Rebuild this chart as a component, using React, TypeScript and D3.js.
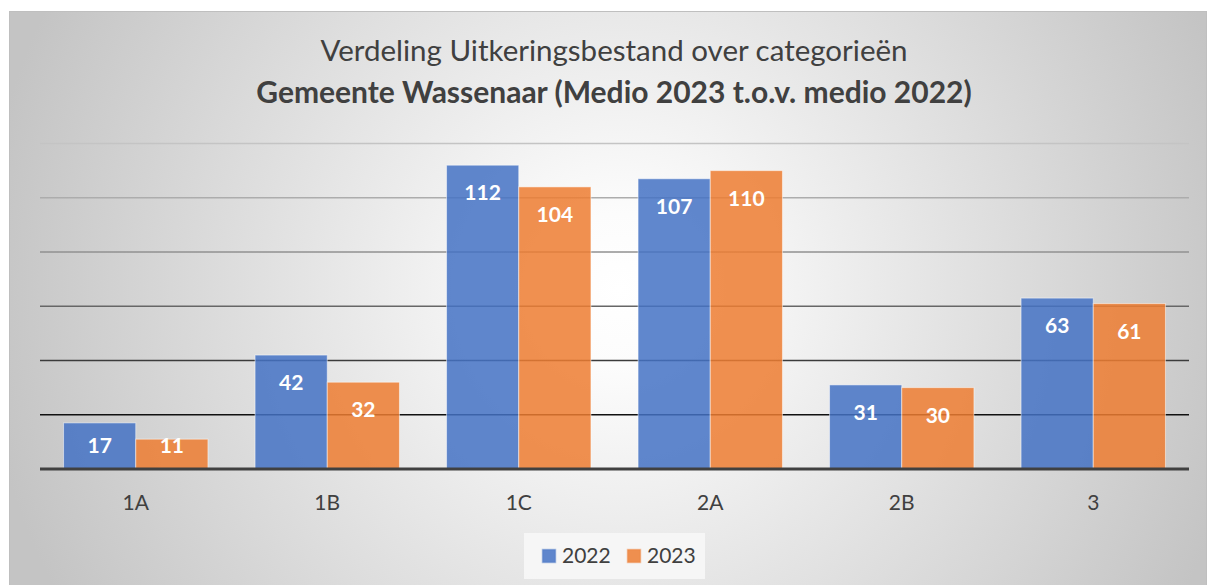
import React from 'react'
import * as d3 from 'd3'

const categories = ['1A', '1B', '1C', '2A', '2B', '3']
const seriesNames = ['2022', '2023']
const values2022 = [17, 42, 112, 107, 31, 63]
const values2023 = [11, 32, 104, 110, 30, 61]
const yTicks = [0, 20, 40, 60, 80, 100, 120]
const colors = ['#4472C4', '#ED7D31']
const titleLine1 = 'Verdeling Uitkeringsbestand over categorieën'
const titleLine2 = 'Gemeente Wassenaar (Medio 2023 t.o.v. medio 2022)'

const W = 1215
const H = 585
const font = 'Lato, "Open Sans", sans-serif'

export default function App() {
  const left = 40
  const right = 1189
  const top = 143.5
  const bottom = 469

  const x = d3.scaleBand().domain(categories).range([left, right]).paddingInner(0.246).paddingOuter(0.123)
  const x1 = d3.scaleBand().domain(seriesNames).range([0, x.bandwidth()])
  const y = d3.scaleLinear().domain([0, 120]).range([bottom, top])

  const series = [values2022, values2023]

  return (
    <svg width={W} height={H} style={{ position: 'absolute', left: 0, top: 0 }}>
      <defs>
        <radialGradient id="bg" gradientUnits="userSpaceOnUse" cx={620} cy={290} r={640}>
          <stop offset="0" stopColor="#ffffff" />
          <stop offset="0.12" stopColor="#fcfcfc" />
          <stop offset="1" stopColor="#c4c4c4" />
        </radialGradient>
        <linearGradient id="grid" gradientUnits="userSpaceOnUse" x1={0} y1={top} x2={0} y2={bottom - 50}>
          <stop offset="0" stopColor="#c4c4c4" />
          <stop offset="0.35" stopColor="#9a9a9a" />
          <stop offset="0.65" stopColor="#5a5a5a" />
          <stop offset="1" stopColor="#0d0d0d" />
        </linearGradient>
      </defs>
      <rect x={0} y={0} width={W} height={H} fill="#ffffff" />
      <rect x={9.5} y={11.5} width={1197} height={H} fill="url(#bg)" stroke="#bfbfbf" strokeWidth={1} />

      <text x={614} y={61} textAnchor="middle" fontFamily={font} fontSize={29.5} fill="#404040">
        {titleLine1}
      </text>
      <text x={614} y={103} textAnchor="middle" fontFamily={font} fontSize={30} fontWeight="bold" fill="#404040">
        {titleLine2}
      </text>

      {yTicks.filter(t => t > 0).map(t => (
        <line key={t} x1={left} x2={right} y1={y(t)} y2={y(t)} stroke="url(#grid)" strokeWidth={1.5} />
      ))}

      {categories.map((c, i) => (
        <g key={c} transform={`translate(${x(c)},0)`}>
          {series.map((vals, s) => {
            const bx = x1(seriesNames[s]) as number
            const by = y(vals[i])
            const labelY = Math.min(by + 35, bottom - 16)
            return (
              <g key={s}>
                <rect
                  x={bx}
                  y={by}
                  width={x1.bandwidth()}
                  height={bottom - by}
                  fill={colors[s]}
                  fillOpacity={0.85}
                  stroke="#ffffff"
                  strokeOpacity={0.5}
                  strokeWidth={1}
                />
                <text
                  x={bx + x1.bandwidth() / 2}
                  y={labelY}
                  textAnchor="middle"
                  fontFamily={font}
                  fontSize={21}
                  fontWeight="bold"
                  fill="#ffffff"
                >
                  {vals[i]}
                </text>
              </g>
            )
          })}
          <text
            x={x.bandwidth() / 2}
            y={510}
            textAnchor="middle"
            fontFamily={font}
            fontSize={21}
            fill="#404040"
          >
            {c}
          </text>
        </g>
      ))}

      <line x1={left} x2={right} y1={bottom} y2={bottom} stroke="#404040" strokeWidth={3} />

      <g>
        <rect x={524} y={533} width={181} height={46} fill="#f8f8f8" fillOpacity={0.85} />
        {seriesNames.map((n, s) => (
          <g key={n} transform={`translate(${542 + s * 85},0)`}>
            <rect x={0.5} y={549.5} width={13} height={13} fill={colors[s]} fillOpacity={0.85} stroke={colors[s]} strokeOpacity={0.4} strokeWidth={1.5} />
            <text x={20} y={563} fontFamily={font} fontSize={21} fill="#404040">
              {n}
            </text>
          </g>
        ))}
      </g>
    </svg>
  )
}
